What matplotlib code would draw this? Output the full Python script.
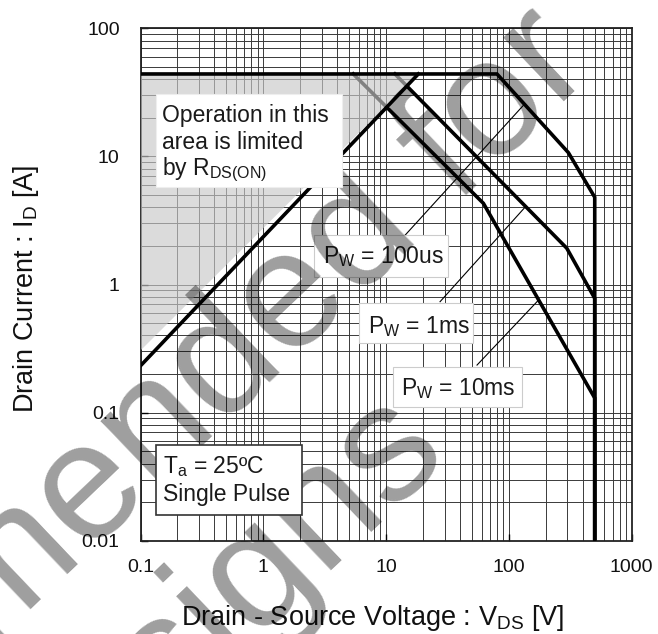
import matplotlib
matplotlib.use("Agg")
import matplotlib.pyplot as plt
from matplotlib.patches import Rectangle, Polygon
from matplotlib.ticker import FixedLocator, LogLocator, NullFormatter

plt.rcParams['font.family'] = ['Liberation Sans', 'DejaVu Sans']
plt.rcParams['mathtext.fontset'] = 'custom'
plt.rcParams['mathtext.rm'] = 'Liberation Sans'
plt.rcParams['mathtext.it'] = 'Liberation Sans:italic'
plt.rcParams['mathtext.bf'] = 'Liberation Sans:bold'

# ---------------- data ----------------
x_ticks = [0.1, 1, 10, 100, 1000]
x_tick_labels = ["0.1", "1", "10", "100", "1000"]
y_ticks = [0.01, 0.1, 1, 10, 100]
y_tick_labels = ["0.01", "0.1", "1", "10", "100"]

# SOA curves (V_DS [V], I_D [A])
pw100us_v = [0.1, 80, 305, 500, 500]
pw100us_i = [44, 44, 10.7, 4.8, 0.01]
pw1ms_v = [11.8, 296, 500, 500]
pw1ms_i = [44, 1.92, 0.78, 0.01]
pw10ms_v = [5.4, 62, 500, 500]
pw10ms_i = [44, 4.3, 0.13, 0.01]

# R_DS(ON) limit line
rds_v = [0.1, 18.3]
rds_i = [0.232, 44]

# shaded "limited by R_DS(ON)" area
shade_v = [0.1, 0.1, 18.3]
shade_i = [0.31, 44, 44]

# leader lines (label -> curve)
lead100us_v = [14.3, 131]
lead100us_i = [2.43, 25]
lead1ms_v = [27.5, 135]
lead1ms_i = [0.734, 4.0]
lead10ms_v = [55, 173]
lead10ms_i = [0.235, 0.75]

# ---------------- figure ----------------
fig = plt.figure(figsize=(6.58, 6.34), dpi=100)
ax = fig.add_axes([0.21353, 0.14716, 0.74650, 0.80820])
ax.set_xscale('log')
ax.set_yscale('log')
ax.set_xlim(0.1, 1000)
ax.set_ylim(0.01, 100)

ax.xaxis.set_major_locator(FixedLocator(x_ticks))
ax.xaxis.set_minor_locator(LogLocator(base=10, subs=range(2, 10), numticks=20))
ax.yaxis.set_major_locator(FixedLocator(y_ticks))
ax.yaxis.set_minor_locator(LogLocator(base=10, subs=range(2, 10), numticks=20))
ax.set_xticklabels(x_tick_labels)
ax.set_yticklabels(y_tick_labels)
ax.xaxis.set_minor_formatter(NullFormatter())
ax.yaxis.set_minor_formatter(NullFormatter())
ax.tick_params(which='major', direction='in', length=5, width=1.0, color='black',
               labelsize=14, labelcolor='#111111')
ax.tick_params(axis='x', which='major', pad=13)
ax.tick_params(axis='y', which='major', pad=15)
ax.tick_params(which='minor', length=0)
ax.set_axisbelow(True)
ax.grid(True, which='both', color='#3a3a3a', lw=0.7)
for s in ax.spines.values():
    s.set_linewidth(1.3)
    s.set_color('#222222')

lw_main = 2.6
ax.plot(pw1ms_v, pw1ms_i, color='black', lw=lw_main, zorder=2, solid_joinstyle='miter')
ax.plot(pw10ms_v, pw10ms_i, color='black', lw=lw_main, zorder=2, solid_joinstyle='miter')

ax.add_patch(Polygon(list(zip(shade_v, shade_i)), closed=True, facecolor='#c8c8c8',
                     edgecolor='none', alpha=0.65, zorder=3))

ax.plot(pw100us_v, pw100us_i, color='black', lw=lw_main, zorder=4, solid_joinstyle='miter')
ax.plot(rds_v, rds_i, color='black', lw=lw_main, zorder=4)

for lv, li in [(lead100us_v, lead100us_i), (lead1ms_v, lead1ms_i), (lead10ms_v, lead10ms_i)]:
    ax.plot(lv, li, color='black', lw=0.8, zorder=4)

txt_kw = dict(transform=ax.transAxes, fontsize=16.5, color='#1a1a1a', ha='left', va='baseline')

def box(x0, y0, x1, y1, ec, lw, z):
    ax.add_patch(Rectangle((x0, y0), x1 - x0, y1 - y0, transform=ax.transAxes,
                           facecolor='white', edgecolor=ec, lw=lw, zorder=z))

# "Operation in this area..." box
box(0.0316, 0.690, 0.410, 0.872, '#eeeeee', 0.8, 6)
ax.text(0.0432, 0.817, "Operation in this", zorder=7, **txt_kw)
ax.text(0.0432, 0.765, "area is limited", zorder=7, **txt_kw)
ax.text(0.0432, 0.714, r"by $\mathrm{R_{DS(ON)}}$", zorder=7, **txt_kw)

# Ta box
box(0.0316, 0.0502, 0.3288, 0.1868, '#333333', 1.2, 6)
ax.text(0.0464, 0.1315, r"$\mathrm{T_a}$ = 25ºC", zorder=7, **txt_kw)
ax.text(0.0464, 0.0775, "Single Pulse", zorder=7, **txt_kw)

# Pulse width labels
box(0.3532, 0.5152, 0.6266, 0.5966, '#cccccc', 0.8, 4.5)
ax.text(0.3709, 0.5414, r"$\mathrm{P_W}$ = 100us", zorder=4.6, **txt_kw)
box(0.4448, 0.3864, 0.6775, 0.4633, '#cccccc', 0.8, 6)
ax.text(0.4625, 0.4048, r"$\mathrm{P_W}$ = 1ms", zorder=7, **txt_kw)
box(0.5134, 0.2603, 0.7773, 0.3396, '#cccccc', 0.8, 6)
ax.text(0.5303, 0.2843, r"$\mathrm{P_W}$ = 10ms", zorder=7, **txt_kw)

# axis labels
ax.text(-0.2188, 0.491, r"Drain Current : $\mathrm{I_D}$ [A]", transform=ax.transAxes,
        rotation=90, rotation_mode='anchor', ha='center', va='baseline',
        fontsize=19.5, color='#111111')
ax.text(0.472, -0.1645, r"Drain - Source Voltage : $\mathrm{V_{DS}}$ [V]", transform=ax.transAxes,
        ha='center', va='baseline', fontsize=19.5, color='#111111')

# watermark
wm_kw = dict(transform=fig.transFigure, rotation=43.6, rotation_mode='anchor', ha='right',
             va='baseline', fontsize=120, color='black', alpha=0.38, clip_on=False, zorder=5)
ax.text(0.9070, 0.8893, "Not Recommended for", **wm_kw)
ax.text(0.6854, 0.2792, "New Designs", **wm_kw)

fig.savefig('out.png', dpi=100)
